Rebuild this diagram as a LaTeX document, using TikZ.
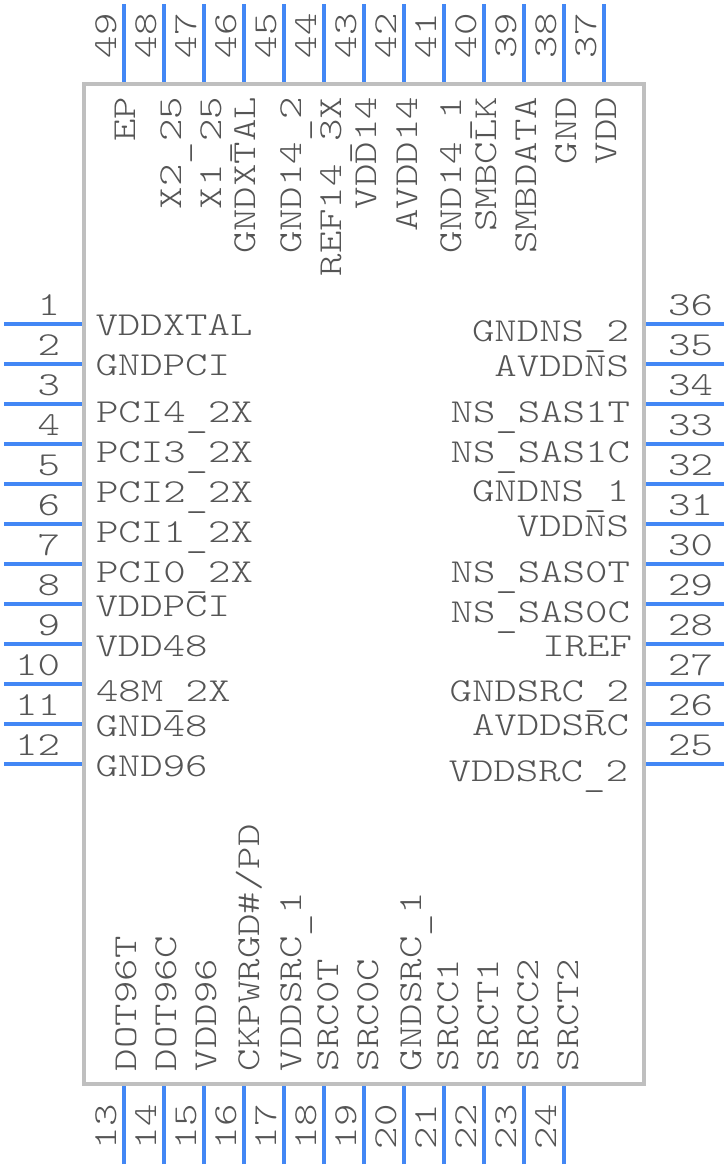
\documentclass[tikz,border=0pt]{standalone}
\usepackage{fontspec}
\newfontfamily\lblfont[FakeStretch=1.275]{Latin Modern Mono Light}
\newcommand\usc{\raisebox{-5pt}{\_}}
\definecolor{pinblue}{HTML}{4287F5}
\definecolor{boxgray}{HTML}{BFBFBF}
\definecolor{txtgray}{HTML}{555555}
\tikzset{
  x=1pt,y=-1pt,
  pin/.style={draw=pinblue,line width=4pt},
  body/.style={draw=boxgray,line width=4pt},
  txt/.style={inner sep=0pt,outer sep=0pt,text=txtgray,font=\lblfont\fontsize{33.5}{40}\selectfont},
  lw/.style={txt,anchor=base west},
  le/.style={txt,anchor=base east},
  tv/.style={txt,anchor=base east,rotate=90},
  bv/.style={txt,anchor=base west,rotate=90},
  tn/.style={txt,anchor=base west,rotate=90},
}
\begin{document}
\begin{tikzpicture}
\useasboundingbox (0,0) rectangle (728,1168);
\fill[white] (0,0) rectangle (728,1168);
% pins
\foreach \n [evaluate=\n as \yy using {284+40*\n}] in {1,...,12}{
  \coordinate (pa\n) at (4,\yy); \coordinate (pb\n) at (84,\yy);
  \draw[pin] (pa\n) -- (pb\n);
  \node[le] (num\n) at (60,\yy-9) {\n};
}
\foreach \n [evaluate=\n as \yy using {284+40*(37-\n)}] in {25,...,36}{
  \coordinate (pa\n) at (724,\yy); \coordinate (pb\n) at (644,\yy);
  \draw[pin] (pa\n) -- (pb\n);
  \node[le] (num\n) at (713,\yy-9) {\n};
}
\foreach \n [evaluate=\n as \xx using {124+40*(\n-13)}] in {13,...,24}{
  \coordinate (pa\n) at (\xx,1164); \coordinate (pb\n) at (\xx,1084);
  \draw[pin] (pa\n) -- (pb\n);
  \node[tn] (num\n) at (\xx-8,1149) {\n};
}
\foreach \n [evaluate=\n as \xx using {124+40*(49-\n)}] in {37,...,49}{
  \coordinate (pa\n) at (\xx,4); \coordinate (pb\n) at (\xx,84);
  \draw[pin] (pa\n) -- (pb\n);
  \node[tn] (num\n) at (\xx-8,58) {\n};
}
\draw[body] (84,84) rectangle (644,1084);
% left labels
\node[lw] (l1) at (95.5,335) {VDDXTAL};
\node[lw] (l2) at (95.5,375) {GNDPCI};
\node[lw] (l3) at (96,422) {PCI4\usc2X};
\node[lw] (l4) at (96,462) {PCI3\usc2X};
\node[lw] (l5) at (96,502) {PCI2\usc2X};
\node[lw] (l6) at (96,542) {PCI1\usc2X};
\node[lw] (l7) at (96,582) {PCI0\usc2X};
\node[lw] (l8) at (95.5,616) {VDDPCI};
\node[lw] (l9) at (95.5,656) {VDD48};
\node[lw] (l10) at (96,701) {48M\usc2X};
\node[lw] (l11) at (95.5,736) {GND48};
\node[lw] (l12) at (95.5,776) {GND96};
% right labels
\node[le] (l36) at (629,341) {GNDNS\usc2};
\node[le] (l35) at (629,376) {AVDDNS};
\node[le] (l34) at (630,422) {NS\usc SAS1T};
\node[le] (l33) at (630,462) {NS\usc SAS1C};
\node[le] (l32) at (629,501) {GNDNS\usc1};
\node[le] (l31) at (629,536) {VDDNS};
\node[le] (l30) at (630,582) {NS\usc SAS0T};
\node[le] (l29) at (630,622) {NS\usc SAS0C};
\node[le] (l28) at (632,656) {IREF};
\node[le] (l27) at (629,701) {GNDSRC\usc2};
\node[le] (l26) at (629,735) {AVDDSRC};
\node[le] (l25) at (628,781) {VDDSRC\usc2};
% top labels
\node[tv] (l49) at (135,97) {EP};
\node[tv] (l48) at (181,97) {X2\usc25};
\node[tv] (l47) at (221,97) {X1\usc25};
\node[tv] (l46) at (255,97) {GNDXTAL};
\node[tv] (l45) at (301,97) {GND14\usc2};
\node[tv] (l44) at (341,97) {REF14\usc3X};
\node[tv] (l43) at (376,97) {VDD14};
\node[tv] (l42) at (417,97) {AVDD14};
\node[tv] (l41) at (461,97) {GND14\usc1};
\node[tv] (l40) at (496,97) {SMBCLK};
\node[tv] (l39) at (536,97) {SMBDATA};
\node[tv] (l38) at (576,97) {GND};
\node[tv] (l37) at (616,97) {VDD};
% bottom labels
\node[bv] (l13) at (136,1071) {DOT96T};
\node[bv] (l14) at (176,1071) {DOT96C};
\node[bv] (l15) at (216,1071) {VDD96};
\node[bv] (l16) at (259,1071) {CKPWRGD\#/PD};
\node[bv] (l17) at (301,1071) {VDDSRC\usc1};
\node[bv] (l18) at (338,1071) {SRC0T};
\node[bv] (l19) at (378,1071) {SRC0C};
\node[bv] (l20) at (421,1071) {GNDSRC\usc1};
\node[bv] (l21) at (458,1071) {SRCC1};
\node[bv] (l22) at (498,1071) {SRCT1};
\node[bv] (l23) at (538,1071) {SRCC2};
\node[bv] (l24) at (578,1071) {SRCT2};
\end{tikzpicture}
\end{document}
